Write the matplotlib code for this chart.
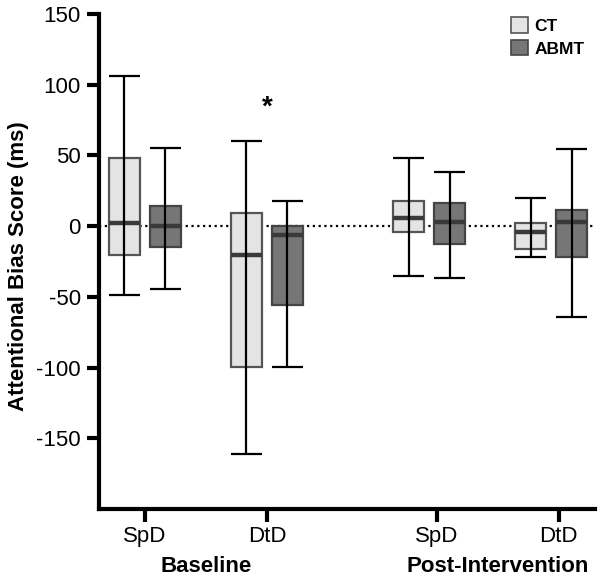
import matplotlib
matplotlib.use("Agg")
import matplotlib.pyplot as plt
from matplotlib.patches import Patch

plt.rcParams["font.family"] = ["Liberation Sans", "DejaVu Sans"]
plt.rcParams["axes.unicode_minus"] = False

# condition labels and positions along x
tick_labels = ["SpD", "DtD", "SpD", "DtD"]
tick_pos = [1.0, 2.0, 3.39, 4.39]
box_centers = [1.0, 2.0, 3.33, 4.33]
phases = ["Baseline", "Post-Intervention"]

groups = ["CT", "ABMT"]
# box stats per condition: whisker low, q1, median, q3, whisker high (ms)
ct_whislo = [-49, -161, -35, -22]
ct_q1 = [-20.5, -99.5, -4, -16]
ct_med = [2, -20.5, 5.5, -4.4]
ct_q3 = [48.5, 9, 17.5, 2]
ct_whishi = [106, 60, 48, 20]

abmt_whislo = [-44.5, -99.5, -36.5, -64]
abmt_q1 = [-14.8, -56, -12.4, -21.7]
abmt_med = [0, -6.3, 3, 2.8]
abmt_q3 = [14, 0, 16.3, 11.3]
abmt_whishi = [55.5, 17.5, 38, 54.3]

OFFSET = 0.168
WIDTH = 0.255
fills = {"CT": "#e4e4e4", "ABMT": "#767676"}
edges = {"CT": "#555555", "ABMT": "#444444"}

fig = plt.figure(figsize=(6.02, 5.79), dpi=100)
ax = fig.add_axes([99 / 602, 70 / 579, 496 / 602, 495 / 579])

series = {
    "CT": (ct_whislo, ct_q1, ct_med, ct_q3, ct_whishi, -OFFSET),
    "ABMT": (abmt_whislo, abmt_q1, abmt_med, abmt_q3, abmt_whishi, OFFSET),
}

# zero reference line
ax.axhline(0, color="black", lw=1.6, ls=(0, (1, 1.6)), zorder=1)

for name, (lo, q1, med, q3, hi, off) in series.items():
    stats = []
    for i in range(len(lo)):
        stats.append({"whislo": lo[i], "q1": q1[i], "med": med[i],
                      "q3": q3[i], "whishi": hi[i], "fliers": []})
    pos = [c + off for c in box_centers]
    ax.bxp(stats, positions=pos, widths=WIDTH, patch_artist=True,
           showcaps=False, showfliers=False, manage_ticks=False,
           boxprops=dict(facecolor=fills[name], edgecolor=edges[name], lw=1.6),
           medianprops=dict(color="#3a3a3a", lw=3.2),
           whiskerprops=dict(lw=0), zorder=2)
    # whiskers drawn through the box, with caps
    ax.vlines(pos, lo, hi, color="black", lw=1.6, zorder=3)
    ax.hlines(lo, [p - WIDTH / 2 for p in pos], [p + WIDTH / 2 for p in pos],
              color="black", lw=1.6, zorder=3)
    ax.hlines(hi, [p - WIDTH / 2 for p in pos], [p + WIDTH / 2 for p in pos],
              color="black", lw=1.6, zorder=3)

ax.text(2.0, 84, "*", ha="center", va="center", fontsize=20, fontweight="bold")

ax.set_xlim(0.623, 4.689)
ax.set_ylim(-200, 150)
ax.set_yticks([-150, -100, -50, 0, 50, 100, 150])
ax.set_xticks(tick_pos)
ax.set_xticklabels(tick_labels)
ax.tick_params(axis="both", width=3, length=9, labelsize=16, direction="out")
ax.tick_params(axis="y", pad=4)
ax.tick_params(axis="x", pad=3)
for s in ["top", "right"]:
    ax.spines[s].set_visible(False)
for s in ["left", "bottom"]:
    ax.spines[s].set_linewidth(3)

ax.set_ylabel("Attentional Bias Score (ms)", fontsize=16, fontweight="bold")
ax.yaxis.set_label_coords(-70 / 496, 0.49)

phase_x = [(tick_pos[0] + tick_pos[1]) / 2, (tick_pos[2] + tick_pos[3]) / 2]
for x, label in zip(phase_x, phases):
    ax.text(x, -241, label, ha="center", va="center", fontsize=16,
            fontweight="bold", clip_on=False)

handles = [Patch(facecolor=fills[g], edgecolor=edges[g], lw=1.2) for g in groups]
fig.legend(handles, groups, loc="upper left", bbox_to_anchor=(511 / 602, 1 - 17 / 579),
           frameon=False, prop={"weight": "bold", "size": 12.5}, borderpad=0,
           borderaxespad=0, handlelength=1.0, handleheight=1.0,
           handletextpad=0.35, labelspacing=0.35)

fig.savefig("out.png", dpi=100)
